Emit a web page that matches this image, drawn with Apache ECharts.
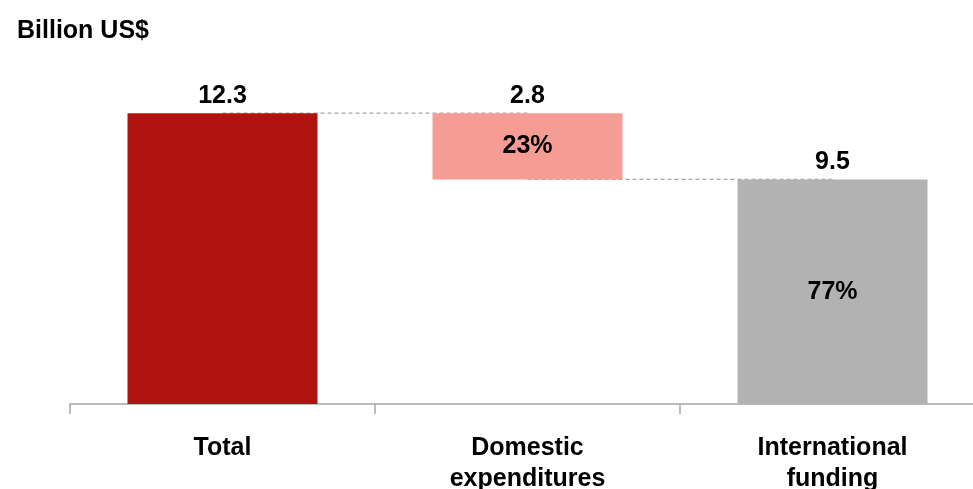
<!DOCTYPE html>
<html>
<head>
<meta charset="utf-8">
<script src="https://cdn.jsdelivr.net/npm/echarts@6/dist/echarts.min.js"></script>
<style>html,body{margin:0;padding:0;background:#fff;}#c{width:973px;height:489px;}</style>
</head>
<body>
<div id="c"></div>
<script>
const categories = ['Total', 'Domestic\nexpenditures', 'International\nfunding'];
const totals = [12.3, 2.8, 9.5];
const bases = [0, 9.5, 0];
const percents = ['', '23%', '77%'];
const colors = ['#AF1410', '#F59C94', '#B2B2B2'];
const connector1 = [bases[1] + totals[1], bases[1] + totals[1], null];
const connector2 = [null, bases[1], totals[2]];

const font = '"Liberation Sans", Arial, sans-serif';
const chart = echarts.init(document.getElementById('c'));
chart.setOption({
  animation: false,
  title: {
    text: 'Billion US$', left: 12, top: 14,
    textStyle: { fontFamily: font, fontWeight: 'bold', fontSize: 25, color: '#000' }
  },
  grid: { left: 70, width: 915, top: 73, bottom: 85, containLabel: false, outerBoundsMode: 'none' },
  xAxis: {
    type: 'category', data: categories, boundaryGap: true,
    axisLine: { lineStyle: { color: '#A6A6A6', width: 1.5 } },
    axisTick: { show: true, length: 10, alignWithLabel: false, lineStyle: { color: '#A6A6A6', width: 1.5 } },
    axisLabel: { margin: 29, fontFamily: font, fontWeight: 'bold', fontSize: 25, color: '#000', lineHeight: 31, interval: 0 }
  },
  yAxis: { type: 'value', min: 0, max: 14, show: false },
  series: [
    {
      type: 'line', data: connector1, symbol: 'none', z: 1,
      lineStyle: { type: [4, 3], color: '#A6A6A6', width: 1.2 }
    },
    {
      type: 'line', data: connector2, symbol: 'none', z: 1,
      lineStyle: { type: [4, 3], color: '#A6A6A6', width: 1.2 }
    },
    {
      type: 'bar', stack: 'w', data: bases, barCategoryGap: '37.7%', z: 2,
      itemStyle: { color: 'rgba(0,0,0,0)' }, silent: true
    },
    {
      type: 'bar', stack: 'w', z: 3,
      data: totals.map((v, i) => ({ value: v, itemStyle: { color: colors[i] } })),
      label: {
        show: true, position: 'inside',
        formatter: p => percents[p.dataIndex],
        fontFamily: font, fontWeight: 'bold', fontSize: 25, color: '#000'
      }
    },
    {
      type: 'bar', stack: 'w', z: 4, data: totals.map(() => 0),
      itemStyle: { color: 'rgba(0,0,0,0)' },
      label: {
        show: true, position: 'top', distance: 5,
        formatter: p => totals[p.dataIndex].toFixed(1),
        fontFamily: font, fontWeight: 'bold', fontSize: 25, color: '#000'
      }
    }
  ]
});
</script>
</body>
</html>
